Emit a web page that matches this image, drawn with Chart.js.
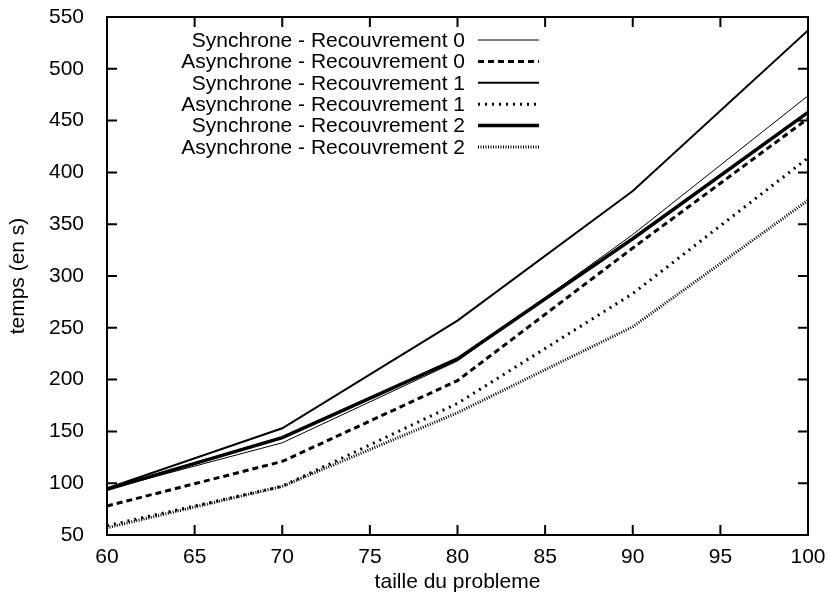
<!DOCTYPE html>
<html>
<head>
<meta charset="utf-8">
<script src="https://cdn.jsdelivr.net/npm/chart.js@4.4.0/dist/chart.umd.min.js"></script>
<style>
  html, body { margin: 0; padding: 0; background: #fff; }
  #wrap { width: 829px; height: 599px; }
</style>
</head>
<body>
<div id="wrap"><canvas id="chart" width="829" height="599"></canvas></div>
<script>
// problem sizes (x axis)
const sizes = [60, 70, 80, 90, 100];

// times in seconds
const syncR0  = [94, 139, 218, 340, 474];
const asyncR0 = [78, 121, 199, 327, 452];
const syncR1  = [95, 153, 257, 382, 537];
const asyncR1 = [59,  97, 177, 283, 414];
const syncR2  = [94, 144, 220, 336, 458];
const asyncR2 = [57,  97, 168, 251, 373];

const labels = [
  "Synchrone - Recouvrement 0",
  "Asynchrone - Recouvrement 0",
  "Synchrone - Recouvrement 1",
  "Asynchrone - Recouvrement 1",
  "Synchrone - Recouvrement 2",
  "Asynchrone - Recouvrement 2"
];

const FONT = "'Liberation Sans', Arial, sans-serif";
const toPts = ys => ys.map((y, i) => ({ x: sizes[i], y }));

function ds(label, values, width, dash) {
  return {
    label,
    data: toPts(values),
    borderColor: "#000",
    backgroundColor: "#000",
    borderWidth: width,
    borderDash: dash,
    pointRadius: 0,
    tension: 0,
    fill: false
  };
}

// gnuplot-like inward ticks and frame
const frame = {
  id: "frame",
  afterDraw(chart) {
    const { ctx, chartArea: a, scales: { x, y } } = chart;
    ctx.save();
    ctx.strokeStyle = "#000";
    ctx.lineWidth = 2;
    ctx.strokeRect(a.left, a.top, a.right - a.left, a.bottom - a.top);
    const len = 10;
    ctx.beginPath();
    x.ticks.forEach(t => {
      const px = x.getPixelForValue(t.value);
      ctx.moveTo(px, a.bottom); ctx.lineTo(px, a.bottom - len);
      ctx.moveTo(px, a.top); ctx.lineTo(px, a.top + len);
    });
    y.ticks.forEach(t => {
      const py = y.getPixelForValue(t.value);
      ctx.moveTo(a.left, py); ctx.lineTo(a.left + len, py);
      ctx.moveTo(a.right, py); ctx.lineTo(a.right - len, py);
    });
    ctx.stroke();
    ctx.restore();
  }
};

// legend: right-aligned text, sample line on the right
const keyBox = {
  id: "keyBox",
  afterDatasetsDraw(chart) {
    const { ctx } = chart;
    const textRight = 465, lineL = 478, lineR = 539;
    const top = 40, step = 21.4;
    ctx.save();
    ctx.font = "21px " + FONT;
    ctx.fillStyle = "#000";
    ctx.textAlign = "right";
    ctx.textBaseline = "middle";
    chart.data.datasets.forEach((d, i) => {
      const yy = top + i * step;
      ctx.fillText(d.label, textRight, yy + 1);
      ctx.beginPath();
      ctx.setLineDash(d.borderDash || []);
      ctx.lineWidth = d.borderWidth;
      ctx.strokeStyle = "#000";
      ctx.moveTo(lineL, yy);
      ctx.lineTo(lineR, yy);
      ctx.stroke();
    });
    ctx.restore();
  }
};

new Chart(document.getElementById("chart").getContext("2d"), {
  type: "line",
  data: {
    datasets: [
      ds(labels[0], syncR0, 1, []),
      ds(labels[1], asyncR0, 3, [6, 4]),
      ds(labels[2], syncR1, 2, []),
      ds(labels[3], asyncR1, 3, [2, 5]),
      ds(labels[4], syncR2, 3.5, []),
      ds(labels[5], asyncR2, 3, [1, 1.5])
    ]
  },
  options: {
    responsive: false,
    animation: false,
    layout: { padding: { top: 17, right: 21, left: 0, bottom: 0 } },
    plugins: { legend: { display: false }, tooltip: { enabled: false } },
    scales: {
      x: {
        type: "linear",
        min: 60,
        max: 100,
        ticks: { stepSize: 5, color: "#000", font: { family: FONT, size: 21 }, padding: 2 },
        grid: { display: false },
        border: { display: false },
        title: { display: true, text: "taille du probleme", color: "#000", font: { family: FONT, size: 21 }, padding: { top: 4, bottom: 4 } },
        afterFit(scale) {
          scale.height = 64;
          scale.paddingLeft = 0;
          scale.paddingRight = 0;
        }
      },
      y: {
        type: "linear",
        min: 50,
        max: 550,
        ticks: { stepSize: 50, color: "#000", font: { family: FONT, size: 21 }, padding: 15 },
        grid: { display: false },
        border: { display: false },
        title: { display: true, text: "temps (en s)", color: "#000", font: { family: FONT, size: 21 }, padding: { top: 6, bottom: 4 } },
        afterFit(scale) {
          scale.width = 107;
          scale.paddingTop = 0;
          scale.paddingBottom = 0;
        }
      }
    }
  },
  plugins: [frame, keyBox]
});
</script>
</body>
</html>
